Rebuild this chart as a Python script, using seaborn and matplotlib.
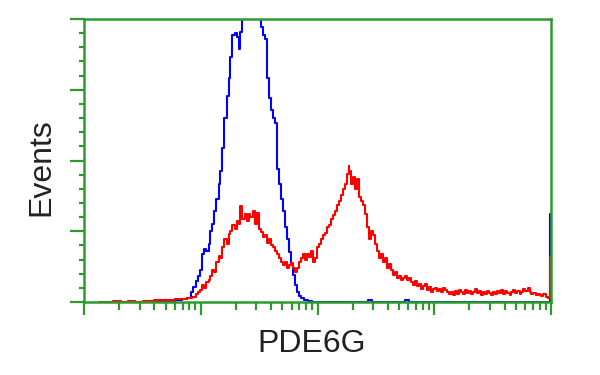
import numpy as np
import pandas as pd
import matplotlib
matplotlib.use("Agg")
import matplotlib.pyplot as plt
from matplotlib.ticker import LogLocator, MultipleLocator, NullFormatter
import seaborn as sns

# 1024-channel log scale (4 decades); counts per channel
blue_ch = [121,143,165,187,209,220,231,238,242,249,253,257,262,266,271,275,279,284,288,293,
           297,301,306,310,315,319,323,328,332,337,341,345,350,354,359,363,367,372,376,381,
           385,389,394,398,403,407,411,416,420,425,429,433,438,442,447,451,455,460,464,469,
           473,480,486,495,506,620,627,634,700,708,716,1019,1023]
blue_n = [0,0.5,1,1,2,3,4,10,15,21,26,32,47,52,50,57,70,77,90,102,
          117,130,152,182,204,222,242,264,266,262,250,267,290,300,310,320,315,325,318,305,
          282,272,264,260,222,202,190,182,177,132,117,102,90,74,62,49,37,27,17,10,
          6,4,2,1,0,0,2,0,0,2,0,0,87]

red_ch = [33,55,73,88,103,121,139,
          143,165,187,209,220,231,242,249,253,257,262,266,271,275,279,284,288,293,297,301,306,310,315,
          319,323,328,332,337,341,345,350,354,359,363,367,372,376,381,385,389,394,398,403,407,411,416,
          420,425,429,433,438,442,447,451,455,460,464,469,473,477,482,486,491,495,499,504,508,
          513,517,521,526,530,535,539,543,548,552,557,561,565,570,574,579,581,583,587,592,596,601,605,
          609,614,618,623,627,631,636,640,645,649,653,658,662,667,671,675,680,684,689,693,697,702,706,
          711,715,719,724,728,733,737,741,746,750,755,759,763,768,772,777,781,785,790,794,799,803,807,
          812,816,821,825,829,834,838,843,847,851,856,860,865,869,873,878,882,887,891,895,900,904,909,
          913,917,922,926,931,935,939,944,948,953,957,961,966,970,975,979,983,988,992,997,1001,1005,
          1010,1014,1019,1023]
red_n = [0,0,1,0,1,0,1,
         1,1.5,2,3,3,4,5,8,10,12,17,14,20,22,26,32,30,40,46,44,54,62,57,
         67,70,76,72,80,77,95,82,87,80,87,84,90,77,88,72,69,64,66,58,62,56,54,
         50,47,44,40,37,40,34,37,39,34,30,34,40,44,47,42,47,45,50,40,44,
         54,57,62,66,68,74,76,82,86,90,96,100,106,112,117,127,135,130,117,124,112,122,104,
         100,96,87,74,62,70,66,57,50,44,47,40,44,34,38,32,27,30,24,26,22,24,26,
         22,24,20,17,21,16,18,13,16,18,12,15,10,13,14,11,13,10,14,12,10,8,10,
         7,11,8,12,10,8,12,9,11,8,10,13,9,11,7,10,8,11,9,7,10,8,11,
         9,12,8,11,9,7,10,12,9,11,8,10,13,11,14,10,8,9,7,8,7,6,
         8,5,4,45]

assert len(blue_ch) == len(blue_n), (len(blue_ch), len(blue_n))
assert len(red_ch) == len(red_n), (len(red_ch), len(red_n))

x_label = "PDE6G"
y_label = "Events"

n_channels = 1024
decades = 4

sns.set_theme(style="white")
plt.rcParams["font.family"] = ["Liberation Sans", "DejaVu Sans"]

GREEN = "#2e9a2e"

df_blue = pd.DataFrame({"intensity": 10 ** (np.array(blue_ch) * decades / n_channels), "events": blue_n})
df_red = pd.DataFrame({"intensity": 10 ** (np.array(red_ch) * decades / n_channels), "events": red_n})

fig = plt.figure(figsize=(6, 3.75), dpi=100)
ax = fig.add_axes([84/600, 1 - 302/375, 467/600, 283/375])

sns.lineplot(data=df_blue, x="intensity", y="events", ax=ax, color="#0000ff",
             linewidth=1.5, drawstyle="steps-mid", estimator=None, sort=True)
sns.lineplot(data=df_red, x="intensity", y="events", ax=ax, color="#ff0000",
             linewidth=1.5, drawstyle="steps-mid", estimator=None, sort=True)

ax.set_xscale("log")
ax.set_xlim(1, 10 ** decades)
ax.set_ylim(0, 280)

ax.xaxis.set_major_locator(LogLocator(base=10, numticks=10))
ax.xaxis.set_minor_locator(LogLocator(base=10, subs=np.arange(2, 10), numticks=50))
ax.xaxis.set_major_formatter(NullFormatter())
ax.xaxis.set_minor_formatter(NullFormatter())
ax.yaxis.set_major_locator(MultipleLocator(70))
ax.yaxis.set_minor_locator(MultipleLocator(14))
ax.yaxis.set_major_formatter(NullFormatter())

ax.tick_params(axis="x", which="major", direction="out", length=9.5, width=1.6, color=GREEN, bottom=True)
ax.tick_params(axis="x", which="minor", direction="out", length=5.5, width=1.6, color=GREEN, bottom=True)
ax.tick_params(axis="y", which="major", direction="out", length=10, width=1.6, color=GREEN, left=True)
ax.tick_params(axis="y", which="minor", direction="out", length=3.5, width=1.6, color=GREEN, left=True)

for s in ax.spines.values():
    s.set_visible(True)
    s.set_color(GREEN)
    s.set_linewidth(1.8)

ax.set_xlabel(x_label, fontsize=23, color="#222222")
ax.set_ylabel(y_label, fontsize=23, color="#222222")
ax.xaxis.label.set_va("center")
ax.yaxis.label.set_va("center")
ax.xaxis.set_label_coords(0.488, -0.148)
ax.yaxis.set_label_coords(-0.092, 0.477)

fig.savefig("out.png", dpi=100, facecolor="white")
